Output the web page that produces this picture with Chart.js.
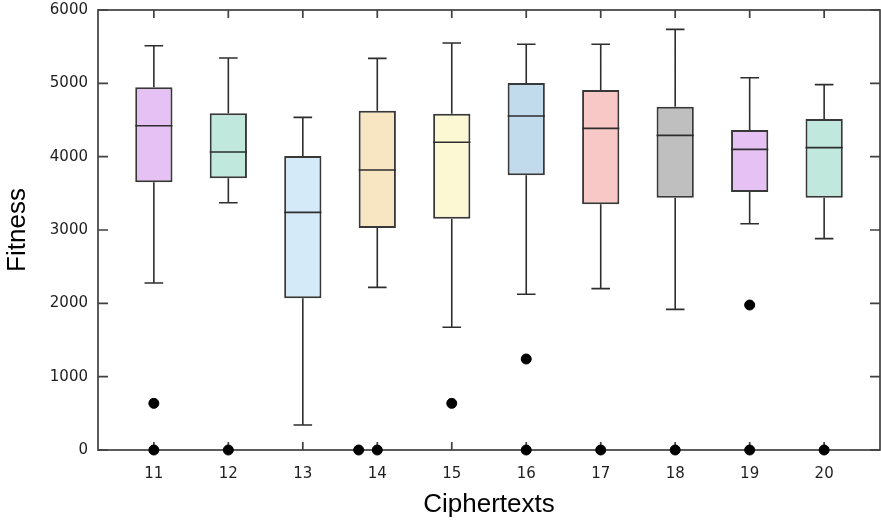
<!DOCTYPE html>
<html>
<head>
<meta charset="utf-8">
<title>Fitness per ciphertext</title>
<script src="https://cdn.jsdelivr.net/npm/chart.js@4.4.1/dist/chart.umd.min.js"></script>
<style>
    html, body { margin: 0; padding: 0; background: #ffffff; }
    #wrap { width: 881px; height: 521px; }
</style>
</head>
<body>
<div id="wrap"><canvas id="boxChart"></canvas></div>
<script>
// Ciphertext numbers on the x axis
const ciphertexts = [11, 12, 13, 14, 15, 16, 17, 18, 19, 20];

// Box plot statistics
const whiskerLow  = [2277, 3372,  341, 2218, 1673, 2123, 2200, 1918, 3086, 2882];
const quartile1   = [3650, 3705, 2068, 3027, 3155, 3745, 3350, 3441, 3518, 3441];
const medians     = [4422, 4064, 3241, 3818, 4196, 4555, 4386, 4291, 4100, 4123];
const quartile3   = [4946, 4591, 4009, 4627, 4586, 5005, 4909, 4682, 4364, 4514];
const whiskerHigh = [5513, 5345, 4536, 5341, 5550, 5532, 5532, 5736, 5077, 4982];

// Outliers (x is slightly spread where two points share a value)
const outlierX = [11, 11, 12, 13.75, 14, 15, 16, 16, 17, 18, 19, 19, 20];
const outlierY = [636, 0, 0, 0, 0, 636, 1241, 0, 0, 0, 1977, 0, 0];

// Y axis ticks
const yTicks = [0, 1000, 2000, 3000, 4000, 5000, 6000];

// Box fill colours, one per ciphertext
const boxColors = [
    "#e6c1f4", "#c1e8dc", "#d5eaf8", "#f8e6c2", "#fcf8d3",
    "#c1dbed", "#f8c8c6", "#bfbfbf", "#e6c1f4", "#c1e8dc"
];

const lineColor = "#2e2e2e";
const frameColor = "#404040";

// Plugin that draws the frame and gnuplot style inward ticks
const framePlugin = {
    id: "frame",
    beforeDatasetsDraw(chart) {
        const { ctx, chartArea } = chart;
        const xScale = chart.scales.x;
        const yScale = chart.scales.y;
        ctx.save();
        ctx.strokeStyle = frameColor;
        ctx.lineWidth = 1.7;
        ctx.strokeRect(chartArea.left, chartArea.top,
            chartArea.right - chartArea.left, chartArea.bottom - chartArea.top);

        ctx.beginPath();
        // x ticks, bottom and top
        ciphertexts.forEach((c) => {
            const px = xScale.getPixelForValue(c);
            ctx.moveTo(px, chartArea.bottom);
            ctx.lineTo(px, chartArea.bottom - 8);
            ctx.moveTo(px, chartArea.top);
            ctx.lineTo(px, chartArea.top + 8);
        });
        // y ticks, left and right
        yTicks.forEach((v) => {
            const py = yScale.getPixelForValue(v);
            ctx.moveTo(chartArea.left, py);
            ctx.lineTo(chartArea.left + 10, py);
            ctx.moveTo(chartArea.right, py);
            ctx.lineTo(chartArea.right - 10, py);
        });
        ctx.stroke();
        ctx.restore();
    }
};

// Plugin that draws whiskers and median lines on top of the boxes
const whiskerPlugin = {
    id: "whiskers",
    afterDatasetDraw(chart, args) {
        if (args.index !== 0) {
            return;
        }
        const { ctx } = chart;
        const xScale = chart.scales.x;
        const yScale = chart.scales.y;
        ctx.save();
        ctx.strokeStyle = lineColor;
        ctx.lineWidth = 1.6;
        ctx.beginPath();
        ciphertexts.forEach((c, i) => {
            const px = xScale.getPixelForValue(c);
            const boxLeft = xScale.getPixelForValue(c - 0.25);
            const boxRight = xScale.getPixelForValue(c + 0.25);
            const capLeft = xScale.getPixelForValue(c - 0.125);
            const capRight = xScale.getPixelForValue(c + 0.125);

            // upper whisker
            ctx.moveTo(px, yScale.getPixelForValue(quartile3[i]));
            ctx.lineTo(px, yScale.getPixelForValue(whiskerHigh[i]));
            ctx.moveTo(capLeft, yScale.getPixelForValue(whiskerHigh[i]));
            ctx.lineTo(capRight, yScale.getPixelForValue(whiskerHigh[i]));

            // lower whisker
            ctx.moveTo(px, yScale.getPixelForValue(quartile1[i]));
            ctx.lineTo(px, yScale.getPixelForValue(whiskerLow[i]));
            ctx.moveTo(capLeft, yScale.getPixelForValue(whiskerLow[i]));
            ctx.lineTo(capRight, yScale.getPixelForValue(whiskerLow[i]));

            // median
            ctx.moveTo(boxLeft, yScale.getPixelForValue(medians[i]));
            ctx.lineTo(boxRight, yScale.getPixelForValue(medians[i]));
        });
        ctx.stroke();
        ctx.restore();
    }
};

const boxData = ciphertexts.map((c, i) => ({ x: c, y: [quartile1[i], quartile3[i]] }));
const outlierData = outlierX.map((x, i) => ({ x: x, y: outlierY[i] }));

const ctx = document.getElementById("boxChart").getContext("2d");
const boxChart = new Chart(ctx, {
    type: "bar",
    data: {
        datasets: [
            {
                label: "Box",
                data: boxData,
                backgroundColor: boxColors,
                borderColor: "#383838",
                borderWidth: 2,
                borderSkipped: false,
                categoryPercentage: 1,
                barPercentage: 0.5,
                order: 2,
            },
            {
                type: "scatter",
                label: "Outliers",
                data: outlierData,
                backgroundColor: "#000000",
                borderColor: "#000000",
                pointRadius: 5,
                pointHoverRadius: 5,
                clip: false,
                order: 1,
            },
        ],
    },
    options: {
        responsive: true,
        maintainAspectRatio: false,
        animation: false,
        layout: {
            autoPadding: false,
            padding: { top: 10, right: 1, left: 0, bottom: 0 },
        },
        scales: {
            x: {
                type: "linear",
                min: 10.25,
                max: 20.75,
                offset: false,
                grid: { display: false, drawTicks: false },
                border: { display: false },
                afterBuildTicks: (scale) => {
                    scale.ticks = ciphertexts.map((c) => ({ value: c }));
                },
                afterFit: (scale) => {
                    scale.height = 71;
                    scale.paddingLeft = 0;
                    scale.paddingRight = 0;
                },
                ticks: {
                    padding: 15,
                    color: "#1e1e1e",
                    font: { family: "DejaVu Sans", size: 15 },
                    callback: (value) => String(value),
                },
                title: {
                    display: true,
                    text: "Ciphertexts",
                    color: "#000000",
                    padding: { top: 0, bottom: 1 },
                    font: { family: "Liberation Sans", size: 26 },
                },
            },
            y: {
                min: 0,
                max: 6000,
                grid: { display: false, drawTicks: false },
                border: { display: false },
                afterBuildTicks: (scale) => {
                    scale.ticks = yTicks.map((v) => ({ value: v }));
                },
                afterFit: (scale) => {
                    scale.width = 98;
                    scale.paddingTop = 0;
                    scale.paddingBottom = 0;
                },
                ticks: {
                    padding: 10,
                    color: "#1e1e1e",
                    font: { family: "DejaVu Sans", size: 15 },
                    callback: (value) => String(value),
                },
                title: {
                    display: true,
                    text: "Fitness",
                    color: "#000000",
                    padding: { top: 2, bottom: 0 },
                    font: { family: "Liberation Sans", size: 26 },
                },
            },
        },
        plugins: {
            legend: { display: false },
            tooltip: { enabled: false },
        },
    },
    plugins: [framePlugin, whiskerPlugin],
});
</script>
</body>
</html>
